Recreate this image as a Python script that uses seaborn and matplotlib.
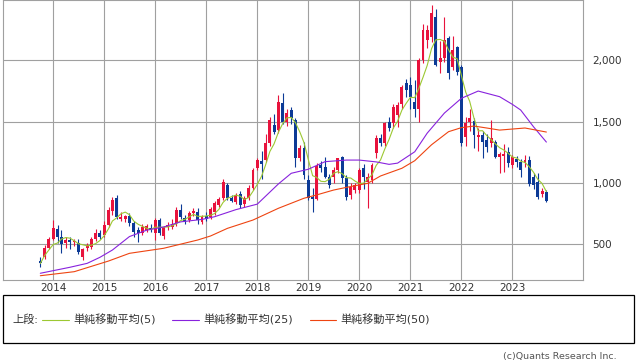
import matplotlib
matplotlib.use("Agg")
import matplotlib.pyplot as plt
import numpy as np
import pandas as pd
import seaborn as sns
from matplotlib.patches import Rectangle

sns.set_theme(style="white")
plt.rcParams["font.family"] = ["DejaVu Sans", "Noto Sans CJK JP"]

# monthly candles, Oct 2013 - Sep 2023
start_month = "2013-10-01"
opens = [
    360, 390, 470,
    540, 622, 557, 508, 530, 515, 507, 393, 466, 475, 540, 590,
    574, 655, 768, 874, 704, 705, 728, 670, 614, 590, 614, 630,
    590, 695, 565, 640, 638, 670, 777, 710, 695, 752, 760, 680,
    730, 720, 760, 817, 874, 980, 874, 842, 907, 826, 874, 956,
    1120, 1177, 1185, 1324, 1471, 1430, 1651, 1496, 1594, 1512, 1202, 1283,
    1022, 880, 866, 1144, 1128, 1047, 1047, 1103, 1210, 1038, 900, 940,
    940, 1120, 1008, 1022, 1243, 1365, 1324, 1496, 1487, 1553, 1640, 1812,
    1798, 1659, 1600, 2000, 2166, 2190, 2354, 1986, 2018, 2182, 1946, 2108,
    1946, 1373, 1500, 1504, 1373, 1389, 1349, 1324, 1332, 1210, 1218, 1251,
    1144, 1193, 1169, 1161, 1185, 1047, 1006, 907, 924,
]
highs = [
    390, 490, 560,
    695, 655, 614, 560, 560, 540, 540, 470, 510, 560, 620, 610,
    690, 800, 880, 899, 760, 740, 750, 690, 640, 660, 660, 660,
    710, 710, 650, 680, 700, 800, 826, 740, 770, 790, 790, 740,
    760, 800, 850, 880, 1030, 1000, 900, 920, 930, 890, 980, 1120,
    1200, 1260, 1400, 1540, 1560, 1720, 1732, 1600, 1620, 1530, 1310, 1330,
    1060, 960, 1160, 1180, 1210, 1070, 1130, 1200, 1220, 1060, 1000, 1000,
    1120, 1150, 1080, 1160, 1390, 1400, 1500, 1540, 1640, 1660, 1800, 1850,
    1860, 1840, 2020, 2300, 2290, 2452, 2420, 2160, 2354, 2200, 2200, 2120,
    1960, 1540, 1600, 1530, 1450, 1420, 1400, 1512, 1350, 1250, 1320, 1290,
    1230, 1220, 1190, 1230, 1220, 1080, 1080, 960, 940,
]
lows = [
    310, 380, 460,
    530, 507, 426, 470, 460, 480, 420, 370, 440, 460, 520, 540,
    560, 640, 740, 700, 690, 680, 650, 560, 516, 570, 600, 600,
    532, 570, 540, 610, 620, 650, 700, 660, 680, 730, 660, 660,
    690, 700, 740, 800, 860, 860, 840, 830, 790, 800, 860, 940,
    1100, 1030, 1170, 1300, 1400, 1410, 1480, 1460, 1480, 1130, 1180, 1030,
    860, 760, 860, 1090, 1040, 960, 1000, 1080, 1000, 860, 870, 920,
    920, 950, 793, 1000, 1200, 1300, 1300, 1420, 1450, 1455, 1600, 1700,
    1600, 1540, 1500, 1980, 2100, 2150, 1950, 1900, 1990, 1850, 1920, 1880,
    1300, 1300, 1420, 1283, 1260, 1200, 1250, 1290, 1200, 1080, 1090, 1130,
    1120, 1130, 1050, 1130, 970, 950, 870, 880, 840,
]
closes = [
    340, 470, 540,
    630, 557, 500, 532, 515, 525, 434, 458, 490, 540, 590, 557,
    655, 776, 858, 720, 720, 725, 670, 597, 590, 638, 647, 614,
    695, 590, 638, 655, 663, 777, 720, 690, 752, 769, 695, 720,
    705, 785, 834, 866, 1005, 874, 850, 899, 817, 874, 956, 1103,
    1185, 1152, 1324, 1512, 1414, 1659, 1496, 1569, 1528, 1202, 1283, 1062,
    874, 866, 1136, 1120, 1047, 980, 1103, 1200, 1038, 883, 967, 980,
    1103, 1047, 1049, 1144, 1365, 1324, 1487, 1447, 1618, 1634, 1780, 1760,
    1700, 1600, 2000, 2245, 2245, 2385, 1962, 2018, 2166, 1896, 2084, 1905,
    1324, 1487, 1528, 1389, 1389, 1332, 1291, 1365, 1210, 1234, 1234, 1161,
    1210, 1169, 1103, 1185, 990, 980, 883, 932, 850,
]

# 25- and 50-period averages
ma25_dates = [
    "2013-10", "2014-05", "2014-09", "2014-12", "2015-03", "2015-07", "2015-11",
    "2016-03", "2016-07", "2016-12", "2017-03", "2017-08", "2018-01", "2018-06",
    "2018-09", "2019-01", "2019-05", "2019-10", "2020-01", "2020-05", "2020-08",
    "2020-10", "2021-02", "2021-05", "2021-09", "2022-01", "2022-05", "2022-10",
    "2023-01", "2023-03", "2023-06", "2023-09",
]
ma25_values = [
    260, 309, 341, 390, 450, 560, 612,
    638, 680, 700, 722, 780, 825, 990,
    1077, 1110, 1172, 1185, 1185, 1170, 1150,
    1160, 1253, 1405, 1569, 1690, 1749, 1703,
    1640, 1594, 1457, 1332,
]
ma50_dates = [
    "2013-10", "2014-06", "2015-02", "2015-07", "2016-03", "2016-11", "2017-02",
    "2017-06", "2017-12", "2018-06", "2018-12", "2019-03", "2019-07", "2019-10",
    "2020-03", "2020-06", "2020-11", "2021-02", "2021-06", "2021-10", "2022-01",
    "2022-04", "2022-07", "2022-10", "2023-04", "2023-09",
]
ma50_values = [
    240, 273, 360, 423, 464, 532, 565,
    627, 695, 791, 873, 900, 940, 962,
    995, 1055, 1118, 1180, 1310, 1417, 1450,
    1463, 1447, 1430, 1447, 1414,
]

year_ticks = list(range(2014, 2024))
price_ticks = [500, 1000, 1500, 2000]
legend_labels = ["単純移動平均(5)", "単純移動平均(25)", "単純移動平均(50)"]

UP = "#e8123c"
DOWN = "#0c3a96"
C5 = "#9cc832"
C25 = "#8822dd"
C50 = "#ee4411"
GRID = "#a0a0a0"

df = pd.DataFrame({"open": opens, "high": highs, "low": lows, "close": closes})
df["date"] = pd.date_range(start_month, periods=len(df), freq="MS")
df["ma5"] = df["close"].rolling(5, min_periods=1).mean()
df["color"] = np.where(df["close"] >= df["open"], UP, DOWN)

ma25 = pd.DataFrame({"date": pd.to_datetime(ma25_dates), "value": ma25_values})
ma50 = pd.DataFrame({"date": pd.to_datetime(ma50_dates), "value": ma50_values})

fig = plt.figure(figsize=(6.38, 3.62), dpi=100)
ax = fig.add_axes([3.3 / 638, 1 - 280 / 362, 579.4 / 638, 280 / 362])

ax.vlines(df["date"], df["low"], df["high"], colors=df["color"], linewidth=0.8, zorder=2)
ax.bar(
    df["date"],
    (df["close"] - df["open"]).abs().clip(lower=6),
    bottom=df[["open", "close"]].min(axis=1),
    width=21,
    color=df["color"],
    linewidth=0,
    zorder=3,
)

sns.lineplot(data=df, x="date", y="ma5", ax=ax, color=C5, linewidth=0.8, label=legend_labels[0], zorder=4)
sns.lineplot(data=ma25, x="date", y="value", ax=ax, color=C25, linewidth=0.8, label=legend_labels[1], zorder=4)
sns.lineplot(data=ma50, x="date", y="value", ax=ax, color=C50, linewidth=0.8, label=legend_labels[2], zorder=4)
handles, labels = ax.get_legend_handles_labels()
ax.get_legend().remove()

ax.set_xlim(pd.Timestamp("2013-01-09"), pd.Timestamp("2024-05-18"))
ax.set_ylim(205, 2493)
ax.set_xticks([pd.Timestamp(f"{y}-01-01") for y in year_ticks])
ax.set_xticklabels([str(y) for y in year_ticks])
ax.set_yticks(price_ticks)
ax.set_yticklabels([f"{v:,}" for v in price_ticks])
ax.yaxis.tick_right()
ax.tick_params(axis="y", length=0, pad=7, labelsize=7.5, labelcolor="#333333")
ax.tick_params(axis="x", length=0, pad=2, labelsize=7.5, labelcolor="#333333")
ax.set_xlabel("")
ax.set_ylabel("")
ax.grid(True, color=GRID, linewidth=0.8)
ax.set_axisbelow(True)
for spine in ax.spines.values():
    spine.set_color(GRID)
    spine.set_linewidth(0.8)

# legend panel
fig.add_artist(Rectangle((3 / 638, 1 - 343 / 362), 631 / 638, 48 / 362,
                         transform=fig.transFigure, fill=False, edgecolor="black", linewidth=0.9))
fig.text(12 / 638, 1 - 320 / 362, "上段:", fontsize=8, color="#333333", va="center", ha="left")
fig.legend(
    handles, labels,
    loc="center left",
    bbox_to_anchor=(42 / 638, 1 - 320 / 362),
    ncol=3,
    frameon=False,
    fontsize=8,
    handlelength=2.4,
    handletextpad=0.4,
    columnspacing=1.5,
    borderpad=0,
    borderaxespad=0,
    labelcolor="#333333",
)
fig.text(617 / 638, 1 - 356 / 362, "(c)Quants Research Inc.", fontsize=6.8, color="#555555",
         ha="right", va="center")

fig.savefig("out.png", dpi=100)
